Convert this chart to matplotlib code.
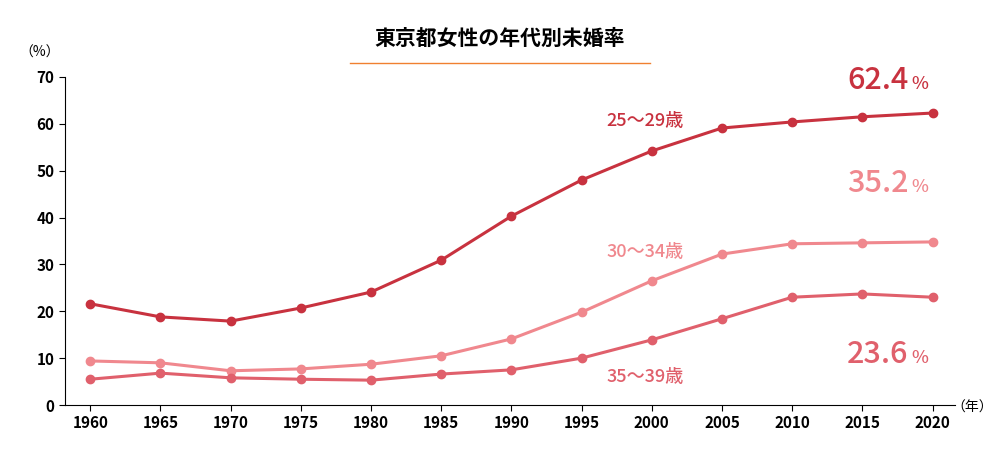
import matplotlib
matplotlib.use("Agg")
import matplotlib.pyplot as plt

years = [1960,1965,1970,1975,1980,1985,1990,1995,2000,2005,2010,2015,2020]
s2529 = [21.6,18.8,17.9,20.7,24.1,30.9,40.3,48.0,54.2,59.1,60.4,61.5,62.3]
s3034 = [9.4,9.0,7.3,7.7,8.7,10.5,14.1,19.8,26.5,32.2,34.4,34.6,34.8]
s3539 = [5.5,6.8,5.8,5.5,5.3,6.6,7.5,10.0,13.9,18.4,23.0,23.7,23.0]
labels = ["25～29歳","30～34歳","35～39歳"]
endvals = ["62.4","35.2","23.6"]
title = "東京都女性の年代別未婚率"

plt.rcParams["font.family"] = ["Noto Sans CJK JP"]
fig = plt.figure(figsize=(10,4.5), dpi=100)
ax = fig.add_axes([0.065, 0.1, 0.89, 0.729])
cols = ["#c8323f", "#f0888e", "#e0606c"]
for s, c in zip([s2529, s3034, s3539], cols):
    ax.plot(years, s, color=c, lw=2.2, marker="o", ms=6)
ax.set_xlim(1958.2, 2021.6)
ax.set_ylim(0, 70)
ax.set_xticks(years)
ax.set_yticks(range(0, 71, 10))
for sp in ["top", "right"]:
    ax.spines[sp].set_visible(False)
ax.tick_params(labelsize=11, length=4)
for t in ax.get_xticklabels() + ax.get_yticklabels():
    t.set_fontweight("bold")
fig.text(0.04, 0.875, "（%）", fontsize=10, ha="center")
fig.text(0.972, 0.085, "（年）", fontsize=10, ha="center")
fig.text(0.5, 0.9, title, fontsize=15, ha="center", weight="bold")
fig.add_artist(plt.Line2D([0.35, 0.65], [0.86, 0.86], color="#f08030", lw=1))
ax.text(1999.5, 59.5, labels[0], color=cols[0], fontsize=13, ha="center", weight="medium")
ax.text(1999.5, 31.5, labels[1], color=cols[1], fontsize=13, ha="center", weight="medium")
ax.text(1999.5, 5.0, labels[2], color=cols[2], fontsize=13, ha="center", weight="medium")
for v, y, c in zip(endvals, [66, 44, 7.5], cols):
    ax.text(2018.3, y, v, color=c, fontsize=22, ha="right", va="bottom", weight="medium")
    ax.text(2018.5, y + 0.6, "%", color=c, fontsize=13, ha="left", va="bottom", weight="medium")
fig.savefig("out.png")
